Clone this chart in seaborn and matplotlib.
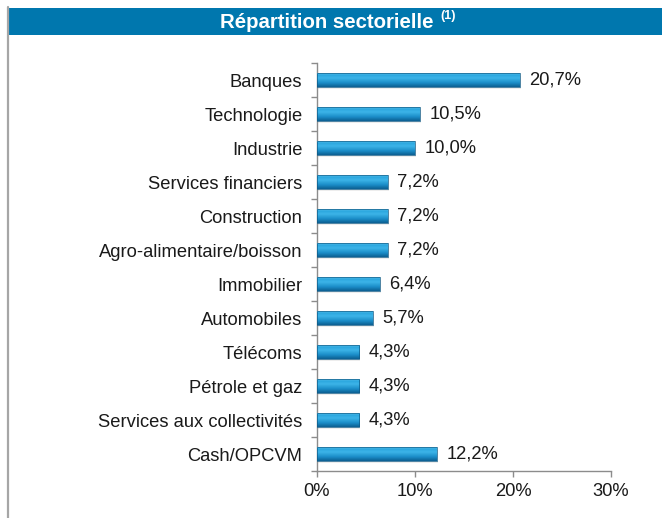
import numpy as np
import pandas as pd
import matplotlib
matplotlib.use("Agg")
import matplotlib.pyplot as plt
import seaborn as sns
from matplotlib.patches import Rectangle
from matplotlib.lines import Line2D
from matplotlib.colors import LinearSegmentedColormap
from matplotlib.ticker import FixedLocator

categories = ["Banques", "Technologie", "Industrie", "Services financiers",
              "Construction", "Agro-alimentaire/boisson", "Immobilier",
              "Automobiles", "Télécoms", "Pétrole et gaz",
              "Services aux collectivités", "Cash/OPCVM"]
values = [20.7, 10.5, 10.0, 7.2, 7.2, 7.2, 6.4, 5.7, 4.3, 4.3, 4.3, 12.2]
value_labels = ["20,7%", "10,5%", "10,0%", "7,2%", "7,2%", "7,2%", "6,4%",
                "5,7%", "4,3%", "4,3%", "4,3%", "12,2%"]
xticks = [0, 10, 20, 30]
xtick_labels = ["0%", "10%", "20%", "30%"]
title = "Répartition sectorielle"
title_note = "(1)"

sns.set_theme(style="white")
plt.rcParams['font.family'] = ['Liberation Sans', 'DejaVu Sans']

FS = 13.2
W, H = 662, 518
fig = plt.figure(figsize=(W / 100, H / 100), dpi=100)
ax = fig.add_axes([317 / W, 1 - 471 / H, (611 - 317) / W, (471 - 63) / H])

df = pd.DataFrame({"cat": categories, "val": values})
sns.barplot(data=df, x="val", y="cat", orient="h", width=0.4,
            color="#1f8fc8", edgecolor="#0d5a86", linewidth=0.5, ax=ax, zorder=3)

ax.set_xlim(0, 30)
ax.set_ylim(len(categories) - 0.5, -0.5)

# gradient fill + soft shadow for each bar
cmap = LinearSegmentedColormap.from_list(
    "bar", [(0.0, "#74d2f4"), (0.12, "#2ba6de"), (0.35, "#3cb4e8"),
            (0.7, "#1b8dc8"), (1.0, "#0c5f92")])
grad = np.linspace(0, 1, 64).reshape(-1, 1)
for p in list(ax.patches):
    x0, y0 = p.get_x(), p.get_y()
    w, h = p.get_width(), p.get_height()
    sh = Rectangle((x0 + 0.1, y0 + 0.07), w, h, facecolor="#000000",
                   alpha=0.07, edgecolor="none", zorder=2)
    ax.add_patch(sh)
    im = ax.imshow(grad, cmap=cmap, aspect="auto", origin="upper",
                   extent=(x0, x0 + w, y0 + h, y0), zorder=3.5)
    im.set_clip_path(p)
    p.set_facecolor("none")
    p.set_zorder(4)

ax.set_xlim(0, 30)
ax.set_ylim(len(categories) - 0.5, -0.5)

for i, (v, lab) in enumerate(zip(values, value_labels)):
    ax.annotate(lab, (v, i), xytext=(7, 0), textcoords="offset points",
                ha="left", va="center", fontsize=FS, color="#1a1a1a")

ax.set_xticks(xticks)
ax.set_xticklabels(xtick_labels, fontsize=FS, color="#1a1a1a")
ax.set_yticks(range(len(categories)))
ax.set_yticklabels(categories, fontsize=FS, color="#1a1a1a")
ax.yaxis.set_minor_locator(FixedLocator(np.arange(-0.5, len(categories), 1)))
ax.tick_params(axis="y", which="major", length=0, pad=10.5)
ax.tick_params(axis="y", which="minor", left=True, length=4, width=1, color="#8c8c8c")
ax.tick_params(axis="x", which="major", bottom=True, length=4, width=1,
               color="#8c8c8c", pad=5)
ax.set_xlabel("")
ax.set_ylabel("")
for s in ["top", "right"]:
    ax.spines[s].set_visible(False)
for s in ["left", "bottom"]:
    ax.spines[s].set_color("#8c8c8c")
    ax.spines[s].set_linewidth(1)
ax.grid(False)

# title bar
fig.patches.append(Rectangle((7 / W, 1 - 35 / H), 1 - 7 / W, 27 / H,
                             transform=fig.transFigure, facecolor="#0077ae",
                             edgecolor="none", zorder=0))
fig.text(433 / W, 1 - 22 / H, title, ha="right", va="center", color="white",
         fontsize=14.7, fontweight="bold")
fig.text(440 / W, 1 - 16 / H, title_note, ha="left", va="center", color="white",
         fontsize=9, fontweight="bold")
fig.lines.append(Line2D([7.5 / W, 7.5 / W], [0, 1 - 7 / H], transform=fig.transFigure,
                        color="#a6a6a6", linewidth=1.6))

fig.savefig("out.png", dpi=100)
